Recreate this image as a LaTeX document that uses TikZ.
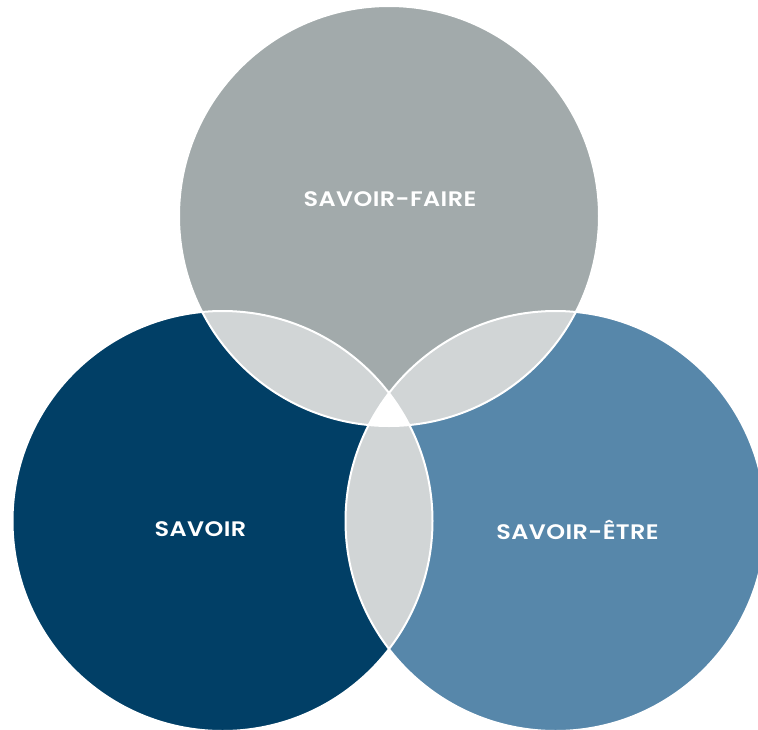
\documentclass[tikz,border=0pt]{standalone}
\usepackage{fontspec}
\newfontfamily\labfont{Poppins SemiBold}[FakeStretch=1.14, LetterSpace=2]
\definecolor{topc}{RGB}{162,170,171}
\definecolor{leftc}{RGB}{1,63,102}
\definecolor{rightc}{RGB}{87,135,170}
\definecolor{lensc}{RGB}{209,213,214}
\tikzset{
  lab/.style={text=white, font=\labfont\fontsize{21}{25}\selectfont, inner sep=0pt, anchor=center},
  ring/.style={draw=white, line width=2pt}
}
\begin{document}
\begin{tikzpicture}[x=1pt,y=-1pt]
\useasboundingbox (0,0) rectangle (758,729);
\clip (0,0) rectangle (758,729);
\def\rr{210}
\coordinate (T) at (389,216);
\coordinate (L) at (222.5,521);
\coordinate (R) at (555.5,521);
\fill[topc] (T) circle (\rr);
\fill[leftc] (L) circle (\rr);
\fill[rightc] (R) circle (\rr);
\begin{scope}\clip (T) circle (\rr); \fill[lensc] (L) circle (\rr); \end{scope}
\begin{scope}\clip (T) circle (\rr); \fill[lensc] (R) circle (\rr); \end{scope}
\begin{scope}\clip (L) circle (\rr); \fill[lensc] (R) circle (\rr); \end{scope}
\begin{scope}\clip (L) circle (\rr); \clip (T) circle (\rr); \fill[white] (R) circle (\rr); \end{scope}
\draw[ring] (T) circle (\rr);
\draw[ring] (L) circle (\rr);
\draw[ring] (R) circle (\rr);
\node[lab] (sf) at (390,199.5) {SAVOIR-FAIRE};
\node[lab] (sv) at (200.5,529) {SAVOIR};
\node[lab] (se) at (577.5,530) {SAVOIR-ÊTRE};
\end{tikzpicture}
\end{document}
